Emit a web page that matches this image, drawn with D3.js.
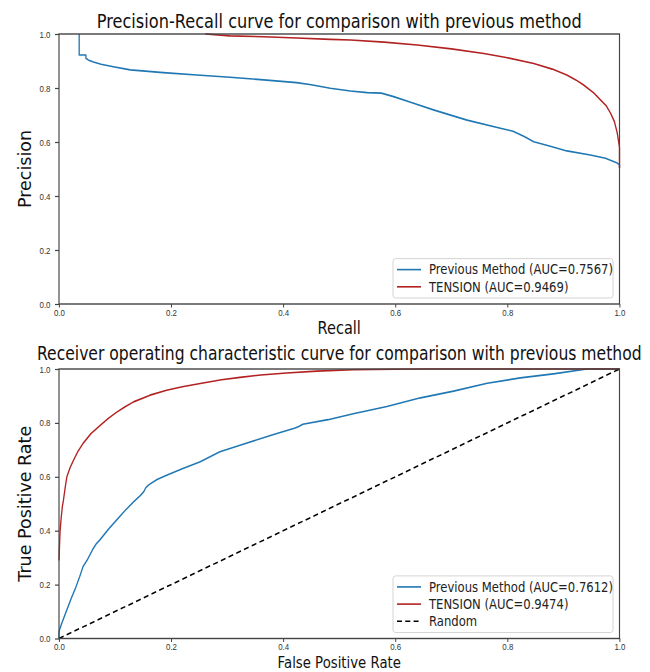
<!DOCTYPE html>
<html>
<head>
<meta charset="utf-8">
<script src="https://cdn.jsdelivr.net/npm/d3@7"></script>
<style>
  html, body { margin: 0; padding: 0; background: #fff; }
  svg { display: block; font-family: "DejaVu Sans", sans-serif; }
</style>
</head>
<body>
<svg id="chart"></svg>
<script>
// ---- data ----
const prevPrRecall = [0.036, 0.036, 0.048, 0.048, 0.052, 0.06, 0.075, 0.097, 0.127, 0.186, 0.246, 0.305, 0.365, 0.424, 0.45, 0.484, 0.52, 0.55, 0.575, 0.597, 0.63, 0.668, 0.728, 0.7875, 0.81, 0.83, 0.847, 0.875, 0.906, 0.948, 0.975, 0.996, 1.0, 1.0];
const prevPrPrecision = [1.0, 0.922, 0.922, 0.91, 0.904, 0.897, 0.888, 0.879, 0.867, 0.857, 0.848, 0.84, 0.83, 0.82, 0.812, 0.799, 0.789, 0.783, 0.781, 0.768, 0.745, 0.719, 0.681, 0.651, 0.64, 0.62, 0.601, 0.585, 0.567, 0.552, 0.54, 0.522, 0.515, 0.504];

const tensionPrRecall = [0.261, 0.305, 0.365, 0.424, 0.484, 0.52, 0.58, 0.639, 0.7, 0.758, 0.8, 0.847, 0.88, 0.906, 0.922, 0.936, 0.955, 0.966, 0.976, 0.984, 0.991, 0.996, 1.0, 1.0];
const tensionPrPrecision = [1.0, 0.993, 0.99, 0.985, 0.98, 0.978, 0.97, 0.959, 0.945, 0.928, 0.912, 0.891, 0.87, 0.848, 0.83, 0.811, 0.78, 0.756, 0.735, 0.707, 0.675, 0.633, 0.58, 0.504];

const prevRocFpr = [0, 0, 0.005, 0.014, 0.022, 0.03, 0.037, 0.043, 0.05, 0.06, 0.066, 0.073, 0.088, 0.103, 0.118, 0.133, 0.145, 0.151, 0.155, 0.16, 0.175, 0.192, 0.22, 0.252, 0.287, 0.323, 0.38, 0.42, 0.427, 0.435, 0.48, 0.525, 0.585, 0.645, 0.704, 0.764, 0.823, 0.882, 0.942, 1.0];
const prevRocTpr = [0, 0.026, 0.057, 0.106, 0.15, 0.19, 0.23, 0.267, 0.29, 0.33, 0.35, 0.366, 0.405, 0.44, 0.475, 0.507, 0.53, 0.544, 0.56, 0.57, 0.59, 0.606, 0.63, 0.656, 0.693, 0.717, 0.755, 0.78, 0.786, 0.795, 0.812, 0.834, 0.861, 0.893, 0.918, 0.947, 0.967, 0.982, 1.0, 1.0];

const tensionRocFpr = [0, 0.001, 0.002, 0.004, 0.006, 0.008, 0.011, 0.014, 0.02, 0.026, 0.034, 0.043, 0.057, 0.073, 0.088, 0.103, 0.118, 0.133, 0.1625, 0.192, 0.22, 0.252, 0.29, 0.323, 0.36, 0.406, 0.46, 0.525, 0.6, 0.65, 1.0];
const tensionRocTpr = [0.29, 0.35, 0.4, 0.45, 0.49, 0.514, 0.56, 0.6, 0.635, 0.662, 0.695, 0.724, 0.76, 0.79, 0.817, 0.84, 0.86, 0.878, 0.903, 0.921, 0.934, 0.946, 0.96, 0.969, 0.978, 0.985, 0.992, 0.997, 0.999, 1.0, 1.0];

const randomFpr = [0, 1];
const randomTpr = [0, 1];

const tickValues = [0, 0.2, 0.4, 0.6, 0.8, 1.0];

const prLegend = ["Previous Method (AUC=0.7567)", "TENSION (AUC=0.9469)"];
const rocLegend = ["Previous Method (AUC=0.7612)", "TENSION (AUC=0.9474)", "Random"];

// ---- layout ----
// the reference text is narrow, as if the figure was squeezed sideways: draw wide and squeeze
const SX = 0.83;
const screenW = 650, screenH = 672;
const W = screenW / SX;
const px = (v) => v / SX; // screen x -> internal x

const BLUE = "#1f77b4";
const RED = "#b22222";

const svg = d3.select("#chart")
    .attr("width", screenW)
    .attr("height", screenH)
    .attr("viewBox", `0 0 ${W} ${screenH}`)
    .attr("preserveAspectRatio", "none");

const panels = [
    {
        top: 34, bottom: 304,
        title: "Precision-Recall curve for comparison with previous method",
        titleY: 28, titleSize: 19.5,
        xLabel: "Recall", xLabelY: 334, xLabelSize: 17.5,
        yLabel: "Precision",
        series: [
            { x: prevPrRecall, y: prevPrPrecision, color: BLUE, dash: null },
            { x: tensionPrRecall, y: tensionPrPrecision, color: RED, dash: null },
        ],
        legend: prLegend,
    },
    {
        top: 369, bottom: 638.5,
        title: "Receiver operating characteristic curve for comparison with previous method",
        titleY: 360, titleSize: 18.8,
        xLabel: "False Positive Rate", xLabelY: 668, xLabelSize: 16,
        yLabel: "True Positive Rate",
        series: [
            { x: prevRocFpr, y: prevRocTpr, color: BLUE, dash: null },
            { x: tensionRocFpr, y: tensionRocTpr, color: RED, dash: null },
            { x: randomFpr, y: randomTpr, color: "#000", dash: "6,4" },
        ],
        legend: rocLegend,
    },
];

const left = px(59), right = px(619.5);

panels.forEach((p) => {
    const g = svg.append("g");

    const xScale = d3.scaleLinear().domain([0, 1]).range([left, right]);
    const yScale = d3.scaleLinear().domain([0, 1]).range([p.bottom, p.top]);

    // clip for lines
    const clipId = "clip" + p.top;
    g.append("clipPath").attr("id", clipId)
        .append("rect")
        .attr("x", left - 2).attr("y", p.top - 2)
        .attr("width", right - left + 4).attr("height", p.bottom - p.top + 4);

    // lines
    const line = d3.line().x((d) => xScale(d[0])).y((d) => yScale(d[1]));
    p.series.forEach((s) => {
        g.append("path")
            .datum(d3.zip(s.x, s.y))
            .attr("clip-path", `url(#${clipId})`)
            .attr("d", line)
            .attr("fill", "none")
            .attr("stroke", s.color)
            .attr("stroke-width", 1.6)
            .attr("stroke-linejoin", "round")
            .attr("stroke-dasharray", s.dash);
    });

    // axes
    const xAxis = g.append("g")
        .attr("transform", `translate(0, ${p.bottom})`)
        .call(d3.axisBottom(xScale).tickValues(tickValues).tickFormat(d3.format(".1f")).tickSize(3.5).tickPadding(1.5));
    const yAxis = g.append("g")
        .attr("transform", `translate(${left}, 0)`)
        .call(d3.axisLeft(yScale).tickValues(tickValues).tickFormat(d3.format(".1f")).tickSize(px(4)).tickPadding(px(4.5)));

    [xAxis, yAxis].forEach((a) => {
        a.select(".domain").remove();
        a.selectAll("line").attr("stroke", "#444").attr("stroke-width", 1.2);
        a.selectAll("text").attr("fill", "#333").style("font-size", "9.5px");
    });

    // frame
    g.append("rect")
        .attr("x", left).attr("y", p.top)
        .attr("width", right - left).attr("height", p.bottom - p.top)
        .attr("fill", "none")
        .attr("stroke", "#444")
        .attr("stroke-width", 1.4);

    // title and labels
    g.append("text")
        .attr("x", (left + right) / 2).attr("y", p.titleY)
        .attr("text-anchor", "middle")
        .style("font-size", p.titleSize + "px")
        .attr("fill", "#111")
        .text(p.title);

    g.append("text")
        .attr("x", (left + right) / 2).attr("y", p.xLabelY)
        .attr("text-anchor", "middle")
        .style("font-size", p.xLabelSize + "px")
        .attr("fill", "#111")
        .text(p.xLabel);

    // rotated label: undo the sideways squeeze
    g.append("text")
        .attr("transform", `translate(${px(31)}, ${(p.top + p.bottom) / 2}) scale(${1 / SX}, 1) rotate(-90)`)
        .attr("text-anchor", "middle")
        .style("font-size", "17.5px")
        .attr("fill", "#111")
        .text(p.yLabel);

    // legend, lower right
    const rowH = 17.2;
    const boxW = px(613) - px(393);
    const boxH = p.legend.length * rowH + 5;
    const boxX = right - px(6.5);
    const boxY = p.bottom - 6;
    const lg = g.append("g").attr("transform", `translate(${boxX - boxW}, ${boxY - boxH})`);
    lg.append("rect")
        .attr("width", boxW).attr("height", boxH)
        .attr("rx", 3).attr("ry", 3)
        .attr("fill", "#fff").attr("fill-opacity", 0.85)
        .attr("stroke", "#d0d0d0").attr("stroke-width", 1);
    p.legend.forEach((name, i) => {
        const s = p.series[i];
        const cy = 11 + i * rowH;
        lg.append("line")
            .attr("x1", px(4)).attr("x2", px(28))
            .attr("y1", cy).attr("y2", cy)
            .attr("stroke", s.color).attr("stroke-width", 1.6)
            .attr("stroke-dasharray", s.dash);
        lg.append("text")
            .attr("x", px(36)).attr("y", cy)
            .attr("dy", "0.35em")
            .style("font-size", "14px")
            .attr("fill", "#222")
            .text(name);
    });
});
</script>
</body>
</html>
